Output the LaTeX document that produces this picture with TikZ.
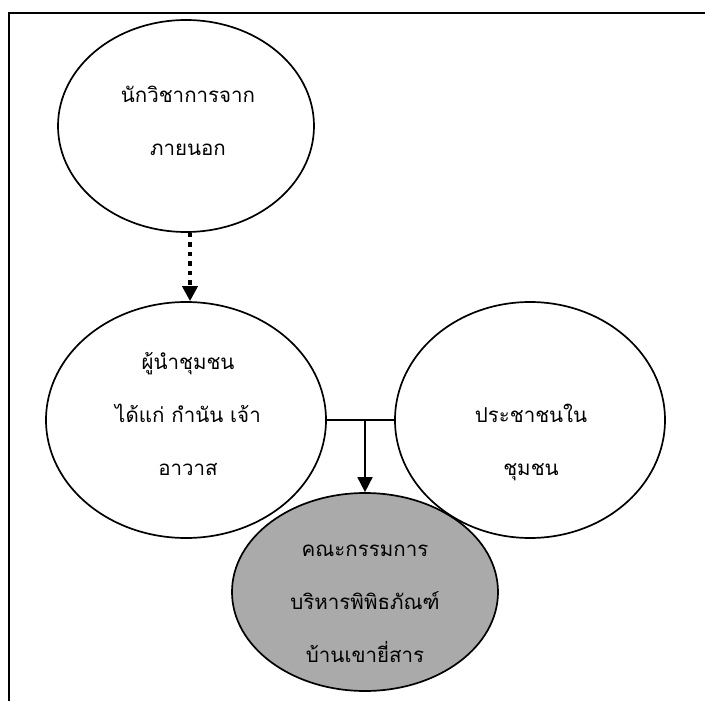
\documentclass[tikz,border=0pt]{standalone}
\usepackage{fontspec}
\newfontfamily\thaifont[Script=Thai]{Loma}
\usetikzlibrary{shapes.geometric,arrows.meta,calc}
\definecolor{boxgray}{RGB}{170,170,170}
\begin{document}
\begin{tikzpicture}[x=1pt,y=-1pt,
  bubble/.style={draw=black,line width=1.7pt,ellipse,inner sep=0pt},
  label text/.style={align=center,inner sep=0pt,
    font=\thaifont\fontsize{20.5}{53}\selectfont},
  tip/.style={-{Triangle[width=15pt,length=15pt]}},
]
\useasboundingbox (0,0) rectangle (705,701);
\fill[white] (0,0) rectangle (705,701);
\draw[line width=2.5pt] (9,701) -- (9,13) -- (705,13);
\node[bubble,minimum width=256pt,minimum height=212pt] (ext) at (186,126) {};
\node[bubble,minimum width=280pt,minimum height=236pt] (lead) at (186,420) {};
\node[bubble,minimum width=270pt,minimum height=236pt] (folk) at (530,420) {};
\node[bubble,fill=boxgray,minimum width=266pt,minimum height=198pt] (com) at (365,592) {};
\node[label text] (extT) at (188,121) {นักวิชาการจาก\\ภายนอก};
\node[label text] (leadT) at (188,414) {ผู้นำชุมชน\\ได้แก่ กำนัน เจ้า\\อาวาส};
\node[label text] (folkT) at (531,442) {ประชาชนใน\\ชุมชน};
\node[label text] (comT) at (365,604) {คณะกรรมการ\\บริหารพิพิธภัณฑ์\\บ้านเขายี่สาร};
\draw[line width=4.5pt,dash pattern=on 4.5pt off 5pt,tip] ($(ext.south)+(4,0)$) -- ($(lead.north)+(4,0)$);
\draw[line width=1.7pt] (lead.east) -- (folk.west);
\coordinate (j) at (lead.east -| com.north);
\draw[line width=1.7pt,tip] (j) -- (com.north);
\end{tikzpicture}
\end{document}
